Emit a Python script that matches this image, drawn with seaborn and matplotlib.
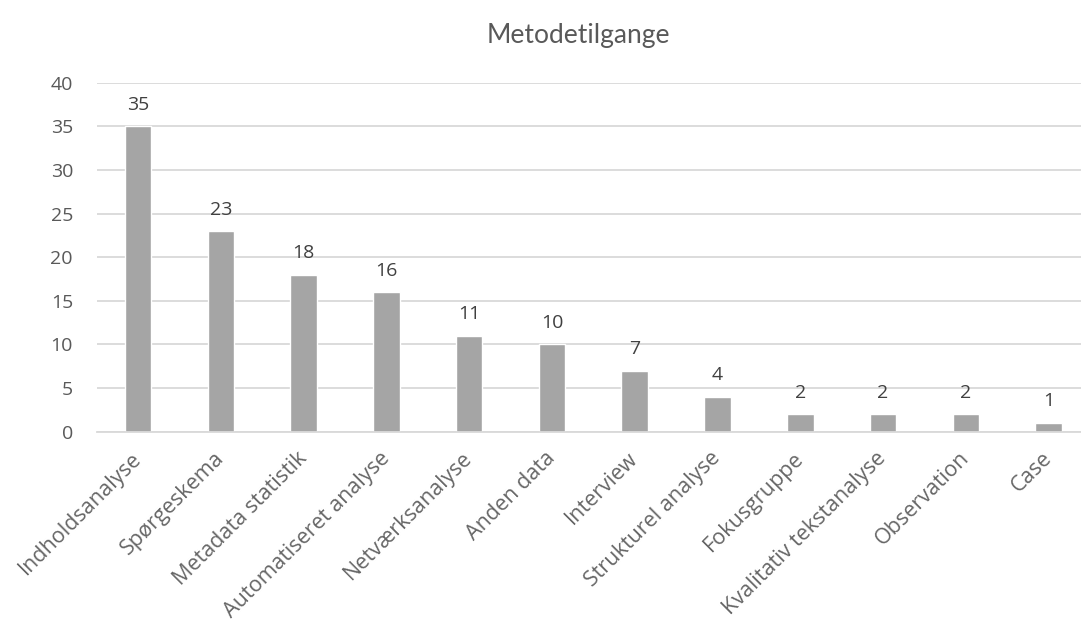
import matplotlib.pyplot as plt
import pandas as pd
import seaborn as sns

CATEGORIES = [
    "Indholdsanalyse",
    "Spørgeskema",
    "Metadata statistik",
    "Automatiseret analyse",
    "Netværksanalyse",
    "Anden data",
    "Interview",
    "Strukturel analyse",
    "Fokusgruppe",
    "Kvalitativ tekstanalyse",
    "Observation",
    "Case",
]
COUNTS = [35, 23, 18, 16, 11, 10, 7, 4, 2, 2, 2, 1]
Y_TICKS = [0, 5, 10, 15, 20, 25, 30, 35, 40]

BAR_COLOR = "#A5A5A5"
GRID_COLOR = "#D9D9D9"
TEXT_COLOR = "#595959"
LABEL_COLOR = "#404040"

sns.set_theme(style="white")
plt.rcParams["font.family"] = ["Open Sans", "DejaVu Sans"]

df = pd.DataFrame({"metode": CATEGORIES, "antal": COUNTS})

W, H = 1081, 631
fig = plt.figure(figsize=(W / 100, H / 100), dpi=100)
left, right = 96.6, 1090.0
bottom, top = H - 431.7, H - 82.7
ax = fig.add_axes([left / W, bottom / H, (right - left) / W, (top - bottom) / H])

sns.barplot(data=df, x="metode", y="antal", color=BAR_COLOR, width=0.32,
            saturation=1, ax=ax)

ax.set_ylim(0, 40)
ax.set_xlim(-0.5, len(CATEGORIES) - 0.5)
ax.set_yticks(Y_TICKS)
ax.yaxis.grid(True, color=GRID_COLOR, linewidth=1.3)
ax.set_axisbelow(True)
for side in ["top", "right", "left"]:
    ax.spines[side].set_visible(False)
ax.spines["bottom"].set_color(GRID_COLOR)
ax.spines["bottom"].set_linewidth(1.3)

ax.tick_params(axis="y", length=0, pad=17, labelsize=14, labelcolor=TEXT_COLOR)
ax.tick_params(axis="x", length=0, pad=17)
ax.set_xticks(range(len(CATEGORIES)))
ax.set_xticklabels(CATEGORIES, rotation=45, ha="right", va="center",
                   rotation_mode="anchor", fontsize=15.5, color="#666666")
ax.set_xlabel("")
ax.set_ylabel("")

ax.bar_label(ax.containers[0], padding=9, fontsize=14, color=LABEL_COLOR)

fig.text(578 / W, 1 - 35 / H, "Metodetilgange", ha="center", va="center",
         fontsize=19, color=TEXT_COLOR, family=["Lato", "DejaVu Sans"])

fig.savefig("out.png", dpi=100)
